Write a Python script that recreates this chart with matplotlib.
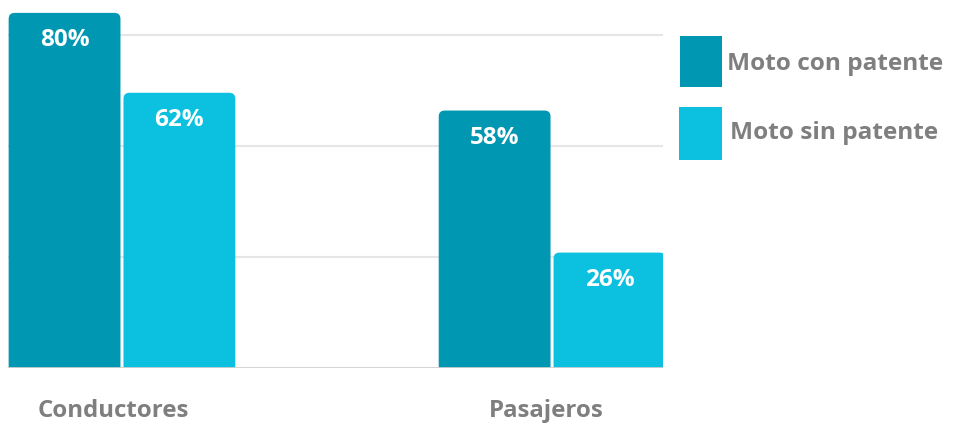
import matplotlib
matplotlib.use("Agg")
import matplotlib.pyplot as plt
from matplotlib.patches import FancyBboxPatch, Rectangle

categories = ["Conductores", "Pasajeros"]
series_names = ["Moto con patente", "Moto sin patente"]
con_patente = [80, 58]
sin_patente = [62, 26]
colors = ["#0097B2", "#0CC0DF"]
text_gray = "#7F7F7F"

W, H = 954, 429
fig = plt.figure(figsize=(W / 100, H / 100), dpi=100)
ax_left, ax_right, ax_bottom, ax_top = 8, 663, 368, 0
ax = fig.add_axes([ax_left / W, (H - ax_bottom) / H, (ax_right - ax_left) / W, (ax_bottom - ax_top) / H])

font = ["Open Sans", "DejaVu Sans"]
bw = 0.26
gap = 0.007
x = list(range(len(categories)))
ax.set_xlim(-0.265, 1.258)
ax.set_ylim(0, 82.9)

for yv in [25, 50, 75]:
    ax.axhline(yv, color="#E6E6E6", lw=1.5, zorder=0)
ax.axhline(0, color="#D0D0D0", lw=2, zorder=3)

px_per_x = (ax_right - ax_left) / (1.258 + 0.265)
px_per_y = (ax_bottom - ax_top) / 82.9
r = 6 / px_per_x
aspect = (1 / px_per_y) / (1 / px_per_x)

for vals, col, off in [(con_patente, colors[0], -bw / 2 - gap / 2), (sin_patente, colors[1], bw / 2 + gap / 2)]:
    bars = ax.bar([xi + off for xi in x], vals, width=bw, color=col)
    for b, v in zip(bars, vals):
        b.set_visible(False)
        p = FancyBboxPatch((b.get_x(), -3), b.get_width(), b.get_height() + 3,
                           boxstyle=f"round,pad=0,rounding_size={r}",
                           mutation_aspect=aspect, fc=col, ec="none", zorder=2, clip_on=True)
        ax.add_patch(p)
        ax.text(b.get_x() + b.get_width() / 2, v - 6.2, f"{v}%", ha="center", va="center",
                color="white", fontsize=17.5, fontweight="bold", family=font, zorder=4)

for sp in ax.spines.values():
    sp.set_visible(False)
ax.set_xticks([])
ax.set_yticks([])

label_x = [113, 546]
for lx, c in zip(label_x, categories):
    fig.text(lx / W, 1 - 411 / H, c, ha="center", va="center", color=text_gray,
             fontsize=17.3, fontweight="bold", family=font)

legend_boxes = [(680, 36, 42, 51), (679, 107, 43, 53)]
legend_text = [(727, 64), (730, 133)]
for (lx, ly, lw, lh), (tx, ty), col, name in zip(legend_boxes, legend_text, colors, series_names):
    fig.add_artist(Rectangle((lx / W, 1 - (ly + lh) / H), lw / W, lh / H, transform=fig.transFigure,
                             fc=col, ec="none"))
    fig.text(tx / W, 1 - ty / H, name, ha="left", va="center", color=text_gray,
             fontsize=17.6, fontweight="bold", family=font)

fig.savefig("out.png", dpi=100)
